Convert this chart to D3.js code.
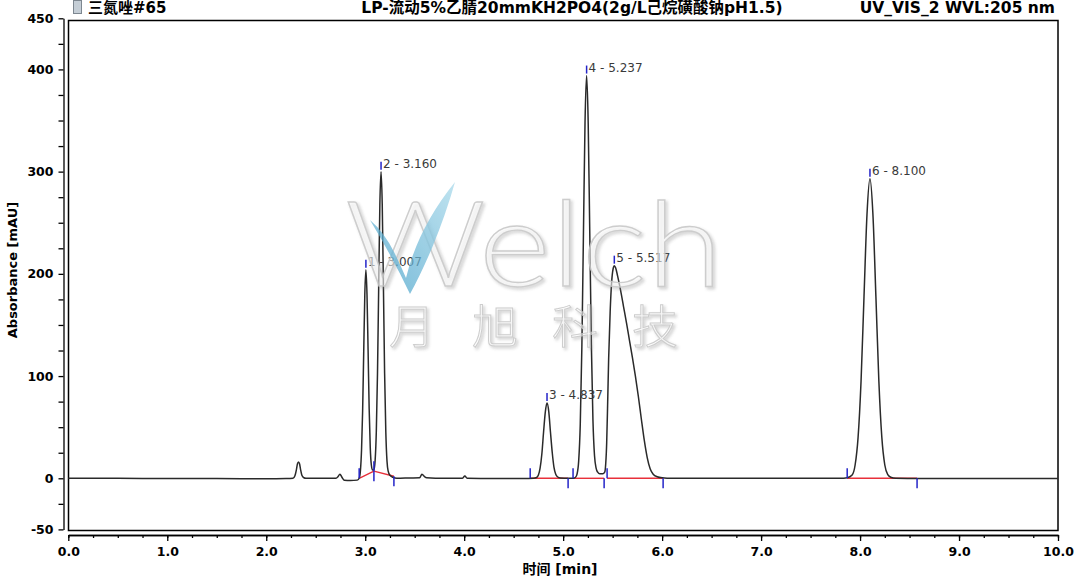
<!DOCTYPE html>
<html>
<head>
<meta charset="utf-8">
<script src="https://cdn.jsdelivr.net/npm/d3@7"></script>
<style>
body { margin: 0; background: #fff; }
svg { display: block; }
.tick text { font-family: "DejaVu Sans", Arial, sans-serif; font-weight: bold; font-size: 12.5px; fill: #000; }
</style>
</head>
<body>
<svg id="chart" width="1080" height="581"></svg>
<script>
// en-têtes du chromatogramme
var sampleName = "三氮唑#65";
var methodName = "LP-流动5%乙腈20mmKH2PO4(2g/L己烷磺酸钠pH1.5)";
var channelName = "UV_VIS_2 WVL:205 nm";

// pics identifiés (numéro, temps de rétention en min, hauteur en mAU)
var peakNo = [1, 2, 3, 4, 5, 6];
var peakTime = [3.007, 3.160, 4.837, 5.237, 5.517, 8.100];
var peakHeight = [204, 300, 73.6, 394, 208, 293];

// signal : [temps (min), absorbance (mAU)]
var trace = [
  [0, 0], [0.5, 0], [1.0, -0.3], [1.5, -0.3], [2.0, -0.5], [2.2, -0.3],
  [2.27, 0], [2.29, 2.5], [2.305, 8.5], [2.315, 14], [2.326, 16], [2.337, 14], [2.347, 8.5], [2.36, 3], [2.38, 0.5], [2.40, 0],
  [2.6, 0], [2.70, 0], [2.72, 1], [2.745, 4], [2.765, 1], [2.79, -2], [2.85, -2.2], [2.92, -1.8],
  [2.941, 0.5], [2.952, 8], [2.963, 28], [2.974, 66], [2.985, 124], [2.996, 180], [3.007, 204], [3.018, 180],
  [3.029, 126], [3.040, 68], [3.051, 30], [3.062, 13], [3.074, 8], [3.088, 8],
  [3.100, 17], [3.112, 45], [3.124, 102], [3.136, 186], [3.148, 268], [3.160, 300], [3.172, 268], [3.184, 188],
  [3.196, 103], [3.208, 46], [3.220, 17], [3.232, 7], [3.25, 3], [3.28, 1], [3.32, 0],
  [3.45, 0.3], [3.55, 0.5], [3.573, 4], [3.60, 1.5], [3.62, 0.5], [3.8, 0], [3.98, 0], [4.007, 2.2], [4.03, 0],
  [4.3, -0.3], [4.6, -0.3], [4.70, 0],
  [4.732, 0.8], [4.75, 3.2], [4.767, 10], [4.785, 24], [4.802, 45], [4.82, 65], [4.837, 73.6], [4.855, 65],
  [4.872, 45], [4.89, 25], [4.907, 11], [4.925, 4], [4.942, 1.5], [4.97, 0.3], [5.05, 0],
  [5.10, 0], [5.125, 1], [5.141, 4.4], [5.157, 17], [5.173, 53], [5.189, 128], [5.205, 239], [5.221, 348],
  [5.237, 394], [5.253, 348], [5.269, 240], [5.285, 131], [5.301, 57], [5.317, 22], [5.333, 10], [5.349, 6],
  [5.37, 4.5], [5.40, 4.5], [5.42, 6],
  [5.43, 14], [5.44, 35], [5.45, 75], [5.46, 118], [5.475, 163], [5.49, 192], [5.505, 205], [5.517, 208],
  [5.53, 206], [5.55, 198], [5.58, 184], [5.61, 168], [5.64, 152], [5.67, 135], [5.70, 118], [5.73, 100],
  [5.76, 80], [5.79, 58], [5.82, 37], [5.85, 20], [5.88, 9], [5.91, 4], [5.95, 1.5], [6.0, 0.5], [6.1, 0],
  [6.5, 0], [7.0, 0], [7.5, 0], [7.8, 0],
  [7.87, 0.6], [7.92, 3.2], [7.95, 13], [7.98, 40], [8.01, 95], [8.04, 178], [8.07, 258], [8.10, 293],
  [8.13, 258], [8.16, 178], [8.19, 95], [8.22, 40], [8.25, 13], [8.28, 3.5], [8.31, 1], [8.36, 0],
  [8.6, -0.3], [9.0, -0.3], [9.5, -0.3], [10.0, -0.3]
];

// lignes de base d'intégration (début / fin)
var segStartT = [2.939, 3.088, 4.667, 5.100, 5.444, 7.870];
var segStartV = [0, 7, 0, 0, 0, 0];
var segEndT = [3.088, 3.290, 5.050, 5.414, 6.010, 8.576];
var segEndV = [7, 2, 0, 0, 0, 0];

// graduations
var yTicks = d3.range(-50, 451, 25);
var yLabels = [-50, 0, 100, 200, 300, 400, 450];
var xMinor = d3.range(0, 10.001, 0.25);
var xMajor = d3.range(0, 11, 1);

var svg = d3.select("#chart");
var font = '"DejaVu Sans", "Noto Sans CJK SC", Arial, sans-serif';

var x = d3.scaleLinear().domain([0, 10]).range([68.3, 1058]);
var y = d3.scaleLinear().domain([-50, 450]).range([529.4, 18.3]);

// cadre du tracé
svg.append("rect")
  .attr("x", 68.5).attr("y", 20.5)
  .attr("width", 1058 - 68.5).attr("height", 530.5 - 20.5)
  .attr("fill", "none").attr("stroke", "#000").attr("stroke-width", 1.5);

// axe Y
var yAxis = svg.append("g")
  .attr("transform", "translate(63.5,0)")
  .call(d3.axisLeft(y).tickValues(yTicks).tickSize(5).tickSizeOuter(0).tickPadding(5)
    .tickFormat(function(d) { return yLabels.indexOf(d) >= 0 ? d : ""; }));
yAxis.selectAll("path, line").attr("stroke", "#000").attr("stroke-width", 1.3);

// axe X : petites et grandes graduations
var xAxisMinor = svg.append("g")
  .attr("transform", "translate(0,535)")
  .call(d3.axisBottom(x).tickValues(xMinor).tickSize(3).tickSizeOuter(0).tickFormat(""));
xAxisMinor.selectAll("path, line").attr("stroke", "#000").attr("stroke-width", 1.3);

var xAxisMajor = svg.append("g")
  .attr("transform", "translate(0,535)")
  .call(d3.axisBottom(x).tickValues(xMajor).tickSize(6).tickSizeOuter(0).tickPadding(6)
    .tickFormat(d3.format(".1f")));
xAxisMajor.selectAll("path, line").attr("stroke", "#000").attr("stroke-width", 1.3);

// titres des axes
svg.append("text")
  .attr("transform", "translate(17,270) rotate(-90)")
  .attr("text-anchor", "middle")
  .style("font-family", font).style("font-weight", "bold").style("font-size", "13px")
  .text("Absorbance [mAU]");

svg.append("text")
  .attr("x", 560).attr("y", 574)
  .attr("text-anchor", "middle")
  .style("font-family", font).style("font-weight", "bold").style("font-size", "14px")
  .text("时间 [min]");

// en-tête
svg.append("rect").attr("x", 73.5).attr("y", 0.5).attr("width", 8).attr("height", 13)
  .attr("fill", "#c5ced6").attr("stroke", "#7d8790");
svg.append("text").attr("x", 88).attr("y", 13)
  .style("font-family", font).style("font-weight", "bold").style("font-size", "15px")
  .text(sampleName);
svg.append("text").attr("x", 572).attr("y", 13).attr("text-anchor", "middle")
  .style("font-family", font).style("font-weight", "bold").style("font-size", "15.5px")
  .text(methodName);
svg.append("text").attr("x", 1055).attr("y", 13).attr("text-anchor", "end")
  .style("font-family", font).style("font-weight", "bold").style("font-size", "15.5px")
  .text(channelName);

// lignes de base (rouge)
for (var i = 0; i < segStartT.length; i++) {
  svg.append("line")
    .attr("x1", x(segStartT[i])).attr("y1", y(segStartV[i]))
    .attr("x2", x(segEndT[i])).attr("y2", y(segEndV[i]))
    .attr("stroke", "#e8303a").attr("stroke-width", 1.4);
}

// signal
var line = d3.line()
  .x(function(d) { return x(d[0]); })
  .y(function(d) { return y(d[1]); })
  .curve(d3.curveMonotoneX);

svg.append("path")
  .datum(trace)
  .attr("d", line)
  .attr("fill", "none")
  .attr("stroke", "#2a2a2a")
  .attr("stroke-width", 1.5);

// marqueurs de début / fin de pic (bleu)
for (var i = 0; i < segStartT.length; i++) {
  svg.append("line")
    .attr("x1", x(segStartT[i])).attr("x2", x(segStartT[i]))
    .attr("y1", y(segStartV[i])).attr("y2", y(segStartV[i]) - 10)
    .attr("stroke", "#2424c8").attr("stroke-width", 1.5);
  svg.append("line")
    .attr("x1", x(segEndT[i])).attr("x2", x(segEndT[i]))
    .attr("y1", y(segEndV[i])).attr("y2", y(segEndV[i]) + 10)
    .attr("stroke", "#2424c8").attr("stroke-width", 1.5);
}

// étiquettes des pics
var peaks = svg.selectAll(".peak")
  .data(peakNo)
  .enter().append("g")
  .attr("class", "peak");

peaks.append("line")
  .attr("x1", function(d, i) { return x(peakTime[i]); })
  .attr("x2", function(d, i) { return x(peakTime[i]); })
  .attr("y1", function(d, i) { return y(peakHeight[i]) - 2; })
  .attr("y2", function(d, i) { return y(peakHeight[i]) - 10; })
  .attr("stroke", "#2424c8").attr("stroke-width", 1.5);

peaks.append("text")
  .attr("x", function(d, i) { return x(peakTime[i]) + 2; })
  .attr("y", function(d, i) { return y(peakHeight[i]) - 4; })
  .style("font-family", '"DejaVu Sans", Arial, sans-serif')
  .style("font-size", "12px")
  .attr("fill", "#3a3a3a")
  .text(function(d, i) { return d + " - " + peakTime[i].toFixed(3); });

// filigrane
var defs = svg.append("defs");
var f = defs.append("filter").attr("id", "shadow").attr("x", "-10%").attr("y", "-10%")
  .attr("width", "130%").attr("height", "130%");
f.append("feDropShadow").attr("dx", 2).attr("dy", 2).attr("stdDeviation", 1.5)
  .attr("flood-color", "#888").attr("flood-opacity", 0.5);

var grad = defs.append("linearGradient").attr("id", "blue")
  .attr("x1", "0").attr("y1", "1").attr("x2", "1").attr("y2", "0");
grad.append("stop").attr("offset", "0%").attr("stop-color", "#3d9cc6");
grad.append("stop").attr("offset", "100%").attr("stop-color", "#a6d8ea");

var wm = svg.append("g").attr("opacity", 0.9);

wm.append("text")
  .attr("x", 345).attr("y", 286)
  .attr("textLength", 378).attr("lengthAdjust", "spacingAndGlyphs")
  .attr("filter", "url(#shadow)")
  .style("font-family", "Lato, 'Open Sans', sans-serif")
  .style("font-weight", 300)
  .style("font-size", "118px")
  .attr("fill", "#ffffff").attr("fill-opacity", 0.55)
  .attr("stroke", "#c8c8c8").attr("stroke-width", 1.3)
  .text("Welch");

wm.append("path")
  .attr("d", "M370,220 Q384,232 394,252 Q401,266 406,278 Q418,228 455,182 Q446,214 432,248 Q420,276 410,294 Q393,258 370,220 Z")
  .attr("fill", "url(#blue)").attr("fill-opacity", 0.8);

var wmChars = ["月", "旭", "科", "技"];
var wmX = [412, 495, 575, 655];
wm.selectAll(".wmc")
  .data(wmChars)
  .enter().append("text")
  .attr("class", "wmc")
  .attr("x", function(d, i) { return wmX[i]; })
  .attr("y", 343)
  .attr("text-anchor", "middle")
  .attr("filter", "url(#shadow)")
  .style("font-family", "'Noto Sans CJK SC', sans-serif")
  .style("font-weight", 300)
  .style("font-size", "46px")
  .attr("fill", "#ffffff").attr("fill-opacity", 0.55)
  .attr("stroke", "#c8c8c8").attr("stroke-width", 1)
  .text(function(d) { return d; });
</script>
</body>
</html>
